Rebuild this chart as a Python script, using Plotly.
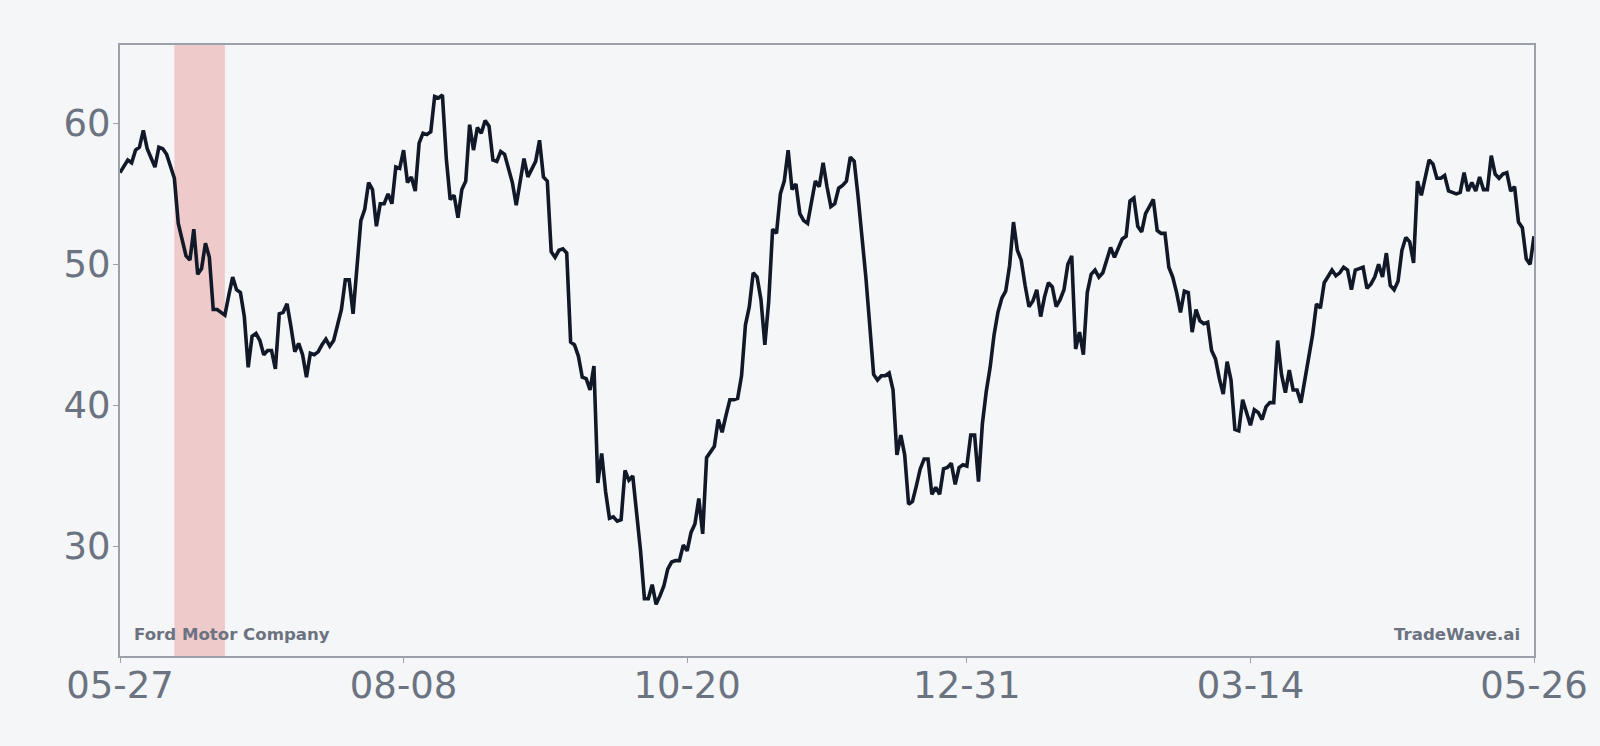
import pandas as pd
import plotly.graph_objects as go

start_date = "2024-05-27"
values = [
    56.5, 56.9, 57.4, 57.2, 58.1, 58.3, 59.5, 58.2, 57.6, 56.9,
    58.3, 58.2, 57.8, 57.0, 56.1, 52.9, 51.6, 50.6, 50.3, 52.5,
    49.3, 49.7, 51.5, 50.5, 46.8, 46.8, 46.6, 46.4, 47.8, 49.1,
    48.2, 48.0, 46.3, 42.7, 44.9, 45.1, 44.6, 43.6, 43.9, 43.9,
    42.6, 46.5, 46.6, 47.2, 45.6, 43.8, 44.4, 43.6, 42.0, 43.7,
    43.6, 43.8, 44.3, 44.7, 44.2, 44.6, 45.7, 46.8, 48.9, 48.9,
    46.5, 49.9, 53.1, 53.9, 55.8, 55.3, 52.7, 54.3, 54.3, 55.0,
    54.3, 56.9, 56.8, 58.1, 55.8, 56.2, 55.2, 58.6, 59.3, 59.2,
    59.4, 61.9, 61.8, 62.0, 57.5, 54.6, 54.9, 53.3, 55.3, 55.9,
    59.9, 58.1, 59.7, 59.3, 60.2, 59.8, 57.4, 57.3, 58.0, 57.8,
    56.8, 55.8, 54.2, 55.8, 57.5, 56.2, 56.8, 57.3, 58.8, 56.2,
    55.9, 50.9, 50.5, 51.0, 51.1, 50.8, 44.5, 44.3, 43.5, 42.0,
    41.9, 41.1, 42.8, 34.5, 36.6, 33.9, 32.0, 32.1, 31.8, 31.9,
    35.4, 34.7, 35.0, 32.3, 29.7, 26.3, 26.3, 27.3, 25.9, 26.5,
    27.2, 28.4, 28.9, 29.0, 29.0, 30.1, 29.7, 31.0, 31.6, 33.4,
    30.9, 36.3, 36.7, 37.1, 39.0, 38.1, 39.3, 40.4, 40.4, 40.5,
    42.1, 45.7, 47.0, 49.4, 49.1, 47.5, 44.3, 47.4, 52.5, 52.2,
    55.0, 55.9, 58.1, 55.3, 55.7, 53.6, 53.1, 52.9, 54.4, 55.9,
    55.5, 57.2, 55.5, 54.1, 54.3, 55.4, 55.6, 55.9, 57.6, 57.3,
    54.8, 52.2, 49.1, 45.7, 42.2, 41.8, 42.1, 42.1, 42.3, 41.1,
    36.5, 37.9, 36.5, 33.0, 33.2, 34.3, 35.5, 36.2, 36.2, 33.7,
    34.2, 33.7, 35.5, 35.6, 35.9, 34.4, 35.6, 35.8, 35.7, 37.9,
    37.9, 34.6, 38.7, 41.0, 42.7, 45.0, 46.6, 47.6, 48.1, 49.9,
    53.0, 51.0, 50.3, 48.5, 47.0, 47.4, 48.2, 46.3, 47.7, 48.7,
    48.4, 47.0, 47.5, 48.2, 50.0, 50.6, 44.0, 45.2, 43.6, 48.0,
    49.3, 49.6, 49.1, 49.4, 50.4, 51.2, 50.5, 51.1, 51.8, 52.0,
    54.5, 54.7, 52.7, 52.3, 53.6, 54.1, 54.6, 52.4, 52.2, 52.2,
    49.8, 49.1, 48.0, 46.6, 48.1, 48.0, 45.2, 46.8, 46.0, 45.8,
    45.9, 43.9, 43.3, 41.9, 40.8, 43.1, 41.8, 38.3, 38.2, 40.4,
    39.5, 38.6, 39.7, 39.5, 39.0, 39.9, 40.2, 40.2, 44.6, 42.2,
    40.9, 42.5, 41.1, 41.1, 40.2, 41.9, 43.5, 45.0, 47.2, 46.9,
    48.7, 49.2, 49.6, 49.2, 49.4, 49.8, 49.6, 48.2, 49.6, 49.7,
    49.8, 48.3, 48.6, 49.1, 50.0, 49.1, 50.8, 48.5, 48.2, 48.8,
    51.0, 51.9, 51.6, 50.1, 55.9, 54.9, 56.2, 57.4, 57.1, 56.1,
    56.1, 56.3, 55.2, 55.1, 55.0, 55.1, 56.5, 55.2, 55.8, 55.2,
    56.2, 55.3, 55.3, 57.7, 56.4, 56.1, 56.4, 56.5, 55.2, 55.5,
    53.0, 52.6, 50.4, 50.0, 52.0,
]
dates = pd.date_range(start_date, periods=len(values), freq="D")

tick_dates = ["2024-05-27", "2024-08-08", "2024-10-20", "2024-12-31", "2025-03-14", "2025-05-26"]
tick_labels = ["05-27", "08-08", "10-20", "12-31", "03-14", "05-26"]
y_ticks = [30, 40, 50, 60]
band_start, band_end = "2024-06-10", "2024-06-23"
left_label = "Ford Motor Company"
right_label = "TradeWave.ai"

BG = "#f4f6f8"
GRID = "#9ca0ab"
TXT = "#6b7280"

fig = go.Figure()
fig.add_trace(go.Scatter(
    x=dates, y=values, mode="lines",
    line=dict(color="#111827", width=3.6),
    hoverinfo="skip", showlegend=False,
))

fig.add_shape(type="rect", xref="x", yref="paper",
              x0=band_start, x1=band_end, y0=0, y1=1,
              fillcolor="#efcacb", line=dict(width=0), layer="below")

fig.add_annotation(text=left_label, xref="paper", yref="paper", x=0, y=0,
                   xanchor="left", yanchor="bottom", xshift=12, yshift=10,
                   showarrow=False,
                   font=dict(family="DejaVu Sans", size=16.6, color=TXT, weight="bold"))
fig.add_annotation(text=right_label, xref="paper", yref="paper", x=1, y=0,
                   xanchor="right", yanchor="bottom", xshift=-12, yshift=10,
                   showarrow=False,
                   font=dict(family="DejaVu Sans", size=16.6, color=TXT, weight="bold"))

fig.update_layout(
    width=1600, height=746,
    margin=dict(l=120, r=64, t=45, b=90),
    paper_bgcolor=BG, plot_bgcolor=BG,
    font=dict(family="DejaVu Sans", color=TXT),
    xaxis=dict(
        type="date", range=["2024-05-27", "2025-05-26"],
        tickmode="array", tickvals=tick_dates, ticktext=tick_labels,
        tickfont=dict(size=37, color=TXT),
        showgrid=False, zeroline=False,
        showline=True, linecolor=GRID, linewidth=2, mirror=True,
        ticks="outside", ticklen=5, tickwidth=1, tickcolor=GRID,
        ticklabelstandoff=-9,
    ),
    yaxis=dict(
        range=[22.24, 65.55],
        tickmode="array", tickvals=y_ticks,
        tickfont=dict(size=37, color=TXT),
        showgrid=False, zeroline=False,
        showline=True, linecolor=GRID, linewidth=2, mirror=True,
        ticks="outside", ticklen=5, tickwidth=1, tickcolor=GRID,
        ticklabelstandoff=-5,
    ),
)

fig.write_html("out.html")
